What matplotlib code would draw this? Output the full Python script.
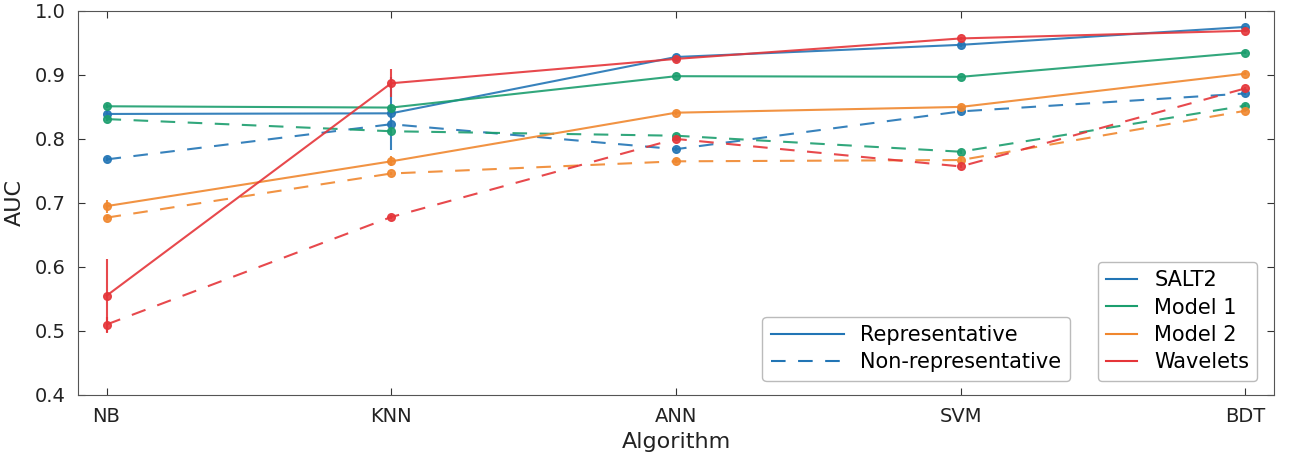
import numpy as np
import matplotlib.pyplot as plt
from matplotlib.lines import Line2D

algorithms = ['NB', 'KNN', 'ANN', 'SVM', 'BDT']
feature_sets = ['SALT2', 'Model 1', 'Model 2', 'Wavelets']
colours = ['#2275b5', '#1b9e6e', '#f0872e', '#e53539']

# representative training set
auc_rep = {
    'SALT2':    [0.839, 0.840, 0.928, 0.947, 0.975],
    'Model 1':  [0.851, 0.849, 0.898, 0.897, 0.935],
    'Model 2':  [0.695, 0.765, 0.841, 0.850, 0.902],
    'Wavelets': [0.555, 0.887, 0.925, 0.957, 0.969],
}
err_rep = {
    'SALT2':    [0.004, 0.057, 0.003, 0.003, 0.002],
    'Model 1':  [0.003, 0.004, 0.002, 0.002, 0.002],
    'Model 2':  [0.010, 0.008, 0.003, 0.003, 0.002],
    'Wavelets': [0.058, 0.022, 0.003, 0.003, 0.002],
}
# non-representative training set
auc_nonrep = {
    'SALT2':    [0.768, 0.823, 0.784, 0.843, 0.871],
    'Model 1':  [0.831, 0.812, 0.805, 0.780, 0.852],
    'Model 2':  [0.677, 0.746, 0.765, 0.767, 0.844],
    'Wavelets': [0.510, 0.678, 0.800, 0.757, 0.879],
}
err_nonrep = {
    'SALT2':    [0.003, 0.004, 0.003, 0.003, 0.002],
    'Model 1':  [0.003, 0.003, 0.003, 0.003, 0.002],
    'Model 2':  [0.004, 0.003, 0.003, 0.003, 0.002],
    'Wavelets': [0.011, 0.003, 0.003, 0.003, 0.002],
}

dash = (0, (7, 6))

fig = plt.figure(figsize=(12.9, 4.55), dpi=100)
ax = fig.add_axes([0.0605, 0.132, 0.927, 0.844])

x = np.arange(len(algorithms))
for name, c in zip(feature_sets, colours):
    ax.errorbar(x, auc_rep[name], yerr=err_rep[name], color=c, lw=1.5,
                marker='o', ms=5.5, mec=c, elinewidth=1.5, capsize=0, alpha=0.9)
    ax.errorbar(x, auc_nonrep[name], yerr=err_nonrep[name], color=c, lw=1.5,
                ls=dash, marker='o', ms=5.5, mec=c, elinewidth=1.5,
                capsize=0, alpha=0.9)

ax.set_xlim(-0.1, 4.1)
ax.set_ylim(0.4, 1.0)
ax.set_xticks(x)
ax.set_xticklabels(algorithms)
ax.set_yticks(np.arange(0.4, 1.01, 0.1))
ax.tick_params(direction='in', top=True, right=True, labelsize=14, length=5,
               color='#333333', labelcolor='#222222')
ax.tick_params(axis='x', pad=9)
ax.tick_params(axis='y', pad=9)
for s in ax.spines.values():
    s.set_color('#555555')
ax.set_xlabel('Algorithm', fontsize=16, labelpad=4, color='#222222')
ax.set_ylabel('AUC', fontsize=16, labelpad=7, color='#222222')

# legend for the feature sets
h1 = [Line2D([], [], color=c, lw=1.5) for c in colours]
leg1 = ax.legend(h1, feature_sets, loc='lower right', fontsize=15,
                 handlelength=1.5, labelspacing=0.35, borderpad=0.4,
                 bbox_to_anchor=(0.995, 0.01), edgecolor='#aaaaaa')
ax.add_artist(leg1)
# legend for the training set type
h2 = [Line2D([], [], color=colours[0], lw=1.5),
      Line2D([], [], color=colours[0], lw=1.5, ls=dash)]
ax.legend(h2, ['Representative', 'Non-representative'], loc='lower right',
          fontsize=15, handlelength=3.5, labelspacing=0.35, borderpad=0.4,
          bbox_to_anchor=(0.838, 0.01), edgecolor='#aaaaaa')

fig.savefig('out.png', dpi=100)
